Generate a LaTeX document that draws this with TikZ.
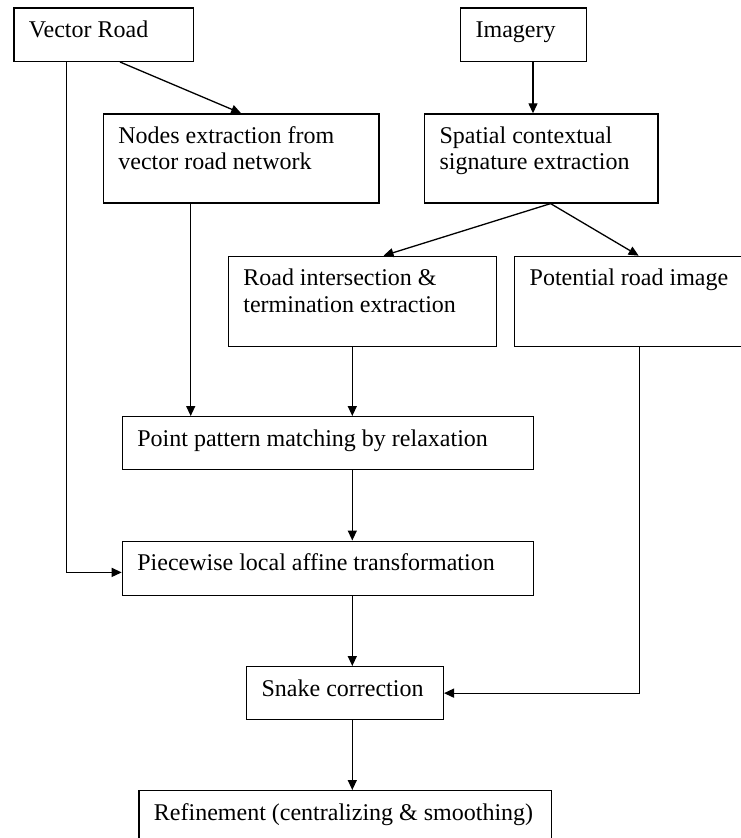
\documentclass[tikz,border=0pt]{standalone}
\usepackage{fontspec}
\setmainfont{Liberation Serif}
\usetikzlibrary{arrows.meta,calc}
% box content: width, height, text (top-left aligned)
\newcommand{\boxtext}[3]{\parbox[t][#2pt][t]{#1pt}{\fontsize{24}{26.5}\selectfont\leftskip=15pt\rightskip=0pt plus 1fil\parindent=0pt\rule{0pt}{29.5pt}#3}}
\begin{document}
\begin{tikzpicture}[x=1pt,y=-1pt,
  box/.style={draw, line width=1.3pt, inner sep=0pt, anchor=north west},
  arr/.style={line width=1.3pt, -{Triangle[length=10pt,width=9pt]}}]
\useasboundingbox (0,0) rectangle (740,838);

% process boxes
\node[box] (vr) at (13.3,7.3)   {\boxtext{179.4}{53.4}{Vector Road}};
\node[box] (img) at (460,7.3)   {\boxtext{125.7}{53.4}{Imagery}};
\node[box] (nx) at (102.7,113.3) {\boxtext{275.6}{89}{Nodes extraction from\\vector road network}};
\node[box] (sp) at (424,113.3)  {\boxtext{233.3}{89}{Spatial contextual\\signature extraction}};
\node[box] (ri) at (227.7,255.7) {\boxtext{268.3}{90}{Road intersection \&\\termination extraction}};
\node[box] (pr) at (514,255.7)  {\boxtext{228}{90}{Potential road image}};
\node[box] (pm) at (121.7,416)  {\boxtext{411}{53}{Point pattern matching by relaxation}};
\node[box] (pw) at (121.7,540.5) {\boxtext{411}{54.5}{Piecewise local affine transformation}};
\node[box] (sn) at (246,666)    {\boxtext{196.7}{53}{Snake correction}};
\node[box] (rf) at (138.3,790)  {\boxtext{412.4}{50}{Refinement (centralizing \& smoothing)}};

% helper points
\coordinate (spine) at (352.3,0);
\coordinate (vro) at ($(vr.south west)+(106.7,0)$);
\coordinate (vrl) at ([xshift=53.4pt]vr.south west);
\coordinate (imgo) at ([xshift=9.5pt]img.south);
\coordinate (fork) at ([xshift=9.3pt]sp.south);
\coordinate (nxo) at ([xshift=88pt]nx.south west);
\coordinate (pro) at ([xshift=10.7pt]pr.south);
\coordinate (pwin) at ([yshift=-4pt]pw.west);

% connectors
\draw[arr] (vro) -- (nx.north);
\draw[arr] (imgo) -- (imgo |- sp.north);
\draw[arr] (fork) -- ([xshift=21pt]ri.north);
\draw[arr] (fork) -- ([xshift=10pt]pr.north);
\draw[arr] (nxo) -- (nxo |- pm.north);
\draw[arr] (spine |- ri.south) -- (spine |- pm.north);
\draw[arr] (spine |- pm.south) -- (spine |- pw.north);
\draw[arr] (spine |- pw.south) -- (spine |- sn.north);
\draw[arr] (spine |- sn.south) -- (spine |- rf.north);
\draw[arr] (vrl) |- (pwin);
\draw[arr] (pro) |- (sn.east);
\end{tikzpicture}
\end{document}
